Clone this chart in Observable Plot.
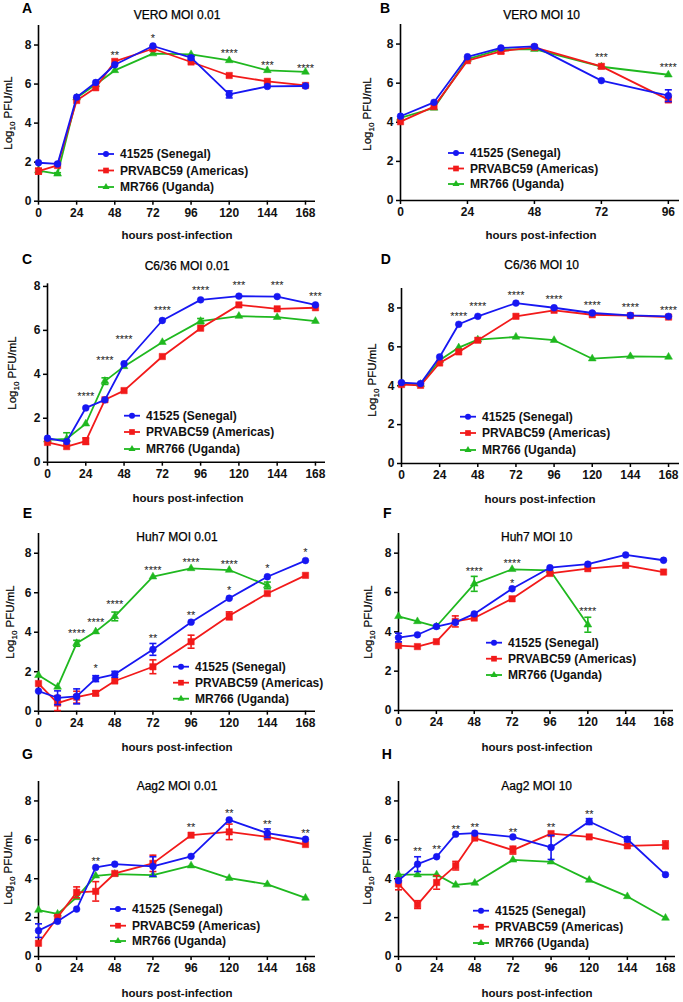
<!DOCTYPE html>
<html><head><meta charset="utf-8">
<script src="https://cdn.jsdelivr.net/npm/d3@7"></script>
<script src="https://cdn.jsdelivr.net/npm/@observablehq/plot@0.6"></script>
<style>
body{margin:0;background:#fff;}
#page{position:relative;width:683px;height:1002px;overflow:hidden;font-family:"Liberation Sans",Arial,sans-serif;background:#fff;}
.panel{position:absolute;}
#overlay{position:absolute;left:0;top:0;pointer-events:none;}
</style></head><body><div id="page"></div>
<script>
// ---------- DATA ----------
const hours = [0, 12, 24, 36, 48, 72, 96, 120, 144, 168];
const hoursVero10 = [0, 12, 24, 36, 48, 72, 96];
const hoursHuh7Uganda001 = [0, 12, 24, 36, 48, 72, 96, 120, 144];
const hoursHuh7Uganda10 = [0, 12, 24, 48, 72, 96, 120];
const xTicksLong = [0, 24, 48, 72, 96, 120, 144, 168];
const xTicksShort = [0, 24, 48, 72, 96];
const yTicks = [0, 2, 4, 6, 8];
const strainLabels = ["41525 (Senegal)", "PRVABC59 (Americas)", "MR766 (Uganda)"];
const panelTitles = ["VERO MOI 0.01", "VERO MOI 10", "C6/36 MOI 0.01", "C6/36 MOI 10",
  "Huh7 MOI 0.01", "Huh7 MOI 10", "Aag2 MOI 0.01", "Aag2 MOI 10"];
const panelLetters = ["A", "B", "C", "D", "E", "F", "G", "H"];
const xLabel = "hours post-infection";

// A: VERO MOI 0.01
const A_senegal = [1.97, 1.91, 5.33, 6.08, 6.99, 7.95, 7.35, 5.47, 5.88, 5.90];
const A_senegal_sem = [0, 0, 0, 0, 0, 0, 0.08, 0.18, 0, 0];
const A_americas = [1.54, 1.83, 5.16, 5.81, 7.16, 7.81, 7.13, 6.44, 6.14, 5.93];
const A_americas_sem = [0.15, 0, 0, 0, 0, 0, 0, 0, 0, 0];
const A_uganda = [1.57, 1.40, 5.30, 5.98, 6.70, 7.56, 7.52, 7.21, 6.70, 6.62];
const A_uganda_sem = [0, 0.06, 0, 0, 0, 0, 0, 0, 0, 0];
const A_starHours = [48, 72, 120, 144, 168];
const A_starY = [7.64, 8.5, 7.7, 7.13, 6.96];
const A_stars = ["**", "*", "****", "***", "****"];

// B: VERO MOI 10
const B_senegal = [4.31, 5.02, 7.35, 7.80, 7.88, 6.13, 5.36];
const B_senegal_sem = [0, 0, 0, 0, 0, 0, 0.3];
const B_americas = [4.03, 4.80, 7.15, 7.63, 7.83, 6.86, 5.16];
const B_americas_sem = [0, 0, 0, 0.12, 0, 0, 0.15];
const B_uganda = [4.22, 4.73, 7.23, 7.73, 7.74, 6.84, 6.43];
const B_uganda_sem = [0, 0, 0, 0, 0, 0, 0];
const B_starHours = [72, 96];
const B_starY = [7.49, 6.98];
const B_stars = ["***", "****"];

// C: C6/36 MOI 0.01
const C_senegal = [1.09, 0.94, 2.47, 2.84, 4.48, 6.45, 7.39, 7.56, 7.54, 7.16];
const C_senegal_sem = [0, 0, 0, 0, 0, 0, 0, 0, 0, 0];
const C_americas = [0.90, 0.71, 0.96, 2.84, 3.26, 4.81, 6.10, 7.16, 6.98, 7.03];
const C_americas_sem = [0, 0, 0.15, 0, 0, 0, 0, 0, 0, 0];
const C_uganda = [1.02, 1.06, 1.75, 3.69, 4.36, 5.46, 6.42, 6.65, 6.60, 6.42];
const C_uganda_sem = [0, 0.28, 0, 0.15, 0, 0, 0.12, 0, 0, 0];
const C_starHours = [24, 36, 48, 72, 96, 120, 144, 168];
const C_starY = [3.11, 4.75, 5.72, 7.06, 7.94, 8.16, 8.16, 7.69];
const C_stars = ["****", "****", "****", "****", "****", "***", "***", "***"];

// D: C6/36 MOI 10
const D_senegal = [4.16, 4.11, 5.48, 7.16, 7.57, 8.25, 8.01, 7.74, 7.62, 7.57];
const D_senegal_sem = [0, 0, 0, 0, 0, 0, 0, 0, 0, 0];
const D_americas = [4.06, 4.02, 5.17, 5.74, 6.34, 7.57, 7.88, 7.65, 7.60, 7.53];
const D_americas_sem = [0, 0, 0, 0, 0, 0, 0, 0, 0, 0];
const D_uganda = [4.11, 4.08, 5.31, 5.96, 6.37, 6.51, 6.34, 5.39, 5.51, 5.48];
const D_uganda_sem = [0, 0, 0, 0, 0, 0, 0, 0, 0, 0];
const D_starHours = [36, 48, 72, 96, 120, 144, 168];
const D_starY = [7.74, 8.22, 8.82, 8.6, 8.3, 8.18, 8.05];
const D_stars = ["****", "****", "****", "****", "****", "****", "****"];

// E: Huh7 MOI 0.01
const E_senegal = [1.02, 0.68, 0.75, 1.65, 1.87, 3.13, 4.51, 5.72, 6.81, 7.63];
const E_senegal_sem = [0, 0.35, 0.38, 0.15, 0.15, 0.3, 0, 0, 0, 0];
const E_americas = [1.40, 0.41, 0.71, 0.91, 1.53, 2.25, 3.52, 4.83, 5.96, 6.88];
const E_americas_sem = [0, 0.38, 0.3, 0.12, 0, 0.35, 0.33, 0.2, 0, 0];
const E_uganda = [1.82, 1.23, 3.44, 4.03, 4.80, 6.81, 7.23, 7.15, 6.37];
const E_uganda_sem = [0, 0, 0.15, 0, 0.22, 0, 0, 0, 0.17];
const E_starHours = [24, 36, 48, 72, 96, 120, 144, 168, 36, 72, 96, 120];
const E_starY = [4.07, 4.63, 5.57, 7.27, 7.69, 7.56, 7.39, 8.17, 2.3, 3.86, 5.02, 6.25];
const E_stars = ["****", "****", "****", "****", "****", "****", "*", "*", "*", "**", "**", "*"];

// F: Huh7 MOI 10
const F_senegal = [3.71, 3.85, 4.27, 4.48, 4.91, 6.19, 7.26, 7.44, 7.91, 7.64];
const F_senegal_sem = [0.22, 0, 0, 0, 0, 0, 0, 0, 0, 0];
const F_americas = [3.30, 3.25, 3.50, 4.53, 4.70, 5.68, 6.97, 7.21, 7.38, 7.04];
const F_americas_sem = [0, 0, 0, 0.28, 0, 0, 0, 0, 0, 0];
const F_uganda = [4.79, 4.53, 4.27, 6.44, 7.18, 7.13, 4.36];
const F_uganda_sem = [0, 0, 0, 0.38, 0, 0, 0.38];
const F_starHours = [48, 72, 72, 120];
const F_starY = [7.21, 7.64, 6.63, 5.21];
const F_stars = ["****", "****", "*", "****"];

// G: Aag2 MOI 0.01
const G_senegal = [1.33, 1.81, 2.44, 4.58, 4.75, 4.63, 5.15, 7.03, 6.34, 6.03];
const G_senegal_sem = [0.35, 0, 0, 0, 0, 0.5, 0, 0, 0.22, 0];
const G_americas = [0.68, 2.02, 3.30, 3.35, 4.27, 4.79, 6.24, 6.41, 6.15, 5.76];
const G_americas_sem = [0, 0, 0.28, 0.5, 0, 0.42, 0, 0.4, 0, 0];
const G_uganda = [2.39, 2.19, 3.04, 4.15, 4.24, 4.19, 4.67, 4.03, 3.71, 3.01];
const G_uganda_sem = [0, 0, 0, 0, 0, 0, 0, 0, 0, 0];
const G_starHours = [36, 96, 120, 144, 168];
const G_starY = [5.06, 6.77, 7.49, 6.97, 6.46];
const G_stars = ["**", "**", "**", "**", "**"];

// H: Aag2 MOI 10
const H_senegal = [3.90, 4.75, 5.13, 6.29, 6.34, 6.15, 5.61, 6.94, 6.03, 4.21];
const H_senegal_sem = [0, 0.38, 0, 0, 0, 0, 0.62, 0.15, 0.12, 0];
const H_americas = [3.73, 2.67, 3.81, 4.67, 6.09, 5.47, 6.32, 6.15, 5.69, 5.74];
const H_americas_sem = [0.3, 0.2, 0.35, 0.22, 0, 0.2, 0, 0, 0, 0.2];
const H_uganda = [4.21, 4.21, 4.21, 3.68, 3.78, 4.97, 4.87, 3.93, 3.09, 1.98];
const H_uganda_sem = [0, 0, 0, 0, 0, 0, 0, 0, 0, 0];
const H_starHours = [12, 24, 36, 48, 72, 96, 120];
const H_starY = [5.56, 5.66, 6.67, 6.77, 6.51, 6.77, 7.45];
const H_stars = ["**", "**", "**", "**", "**", "**", "**"];

// ---------- STYLE / LAYOUT ----------
const COLORS = ["#1717f2", "#f21a1a", "#1fb81f"];
const SYMBOLS = ["circle", "square", "triangle"];
const RADII = [3.4, 3.6, 2.9];
const LEGEND_RADII = [3.0, 3.2, 2.6];
const FONT = "'Liberation Sans', Arial, Helvetica, sans-serif";

const panels = [
  {left:0, top:0, w:340, h:250, mL:38, mR:25, mT:25, mB:49.3, xMax:174.3, yMax:9, xTicks:xTicksLong,
   series:[[hours,A_senegal,A_senegal_sem],[hours,A_americas,A_americas_sem],[hours,A_uganda,A_uganda_sem]],
   stars:[A_starHours,A_starY,A_stars],
   letter:[22,12.7], title:[177,15], ylab:[8,113], xlab:[177,235], legend:[98,[154,170.5,187]]},
  {left:340, top:0, w:343, h:250, mL:60, mR:4, mT:24, mB:50, xMax:100, yMax:9, xTicks:xTicksShort,
   series:[[hoursVero10,B_senegal,B_senegal_sem],[hoursVero10,B_americas,B_americas_sem],[hoursVero10,B_uganda,B_uganda_sem]],
   stars:[B_starHours,B_starY,B_stars],
   letter:[380,12.7], title:[541.7,15], ylab:[367,114], xlab:[541,235], legend:[448,[153,168.5,184]]},
  {left:0, top:250, w:340, h:250, mL:47, mR:15, mT:33.3, mB:38.3, xMax:174.3, yMax:8.12, xTicks:xTicksLong,
   series:[[hours,C_senegal,C_senegal_sem],[hours,C_americas,C_americas_sem],[hours,C_uganda,C_uganda_sem]],
   stars:[C_starHours,C_starY,C_stars],
   letter:[22,264], title:[187,266], ylab:[12,373], xlab:[188,498], legend:[124,[415.7,432,449]]},
  {left:340, top:250, w:343, h:250, mL:61, mR:4, mT:38, mB:37, xMax:174.9, yMax:9, xTicks:xTicksLong,
   series:[[hours,D_senegal,D_senegal_sem],[hours,D_americas,D_americas_sem],[hours,D_uganda,D_uganda_sem]],
   stars:[D_starHours,D_starY,D_stars],
   letter:[380.7,264], title:[541.7,265], ylab:[372,380], xlab:[540,499], legend:[460,[416.7,433,450]]},
  {left:0, top:500, w:340, h:250, mL:38, mR:25, mT:33, mB:39.3, xMax:174.3, yMax:9, xTicks:xTicksLong,
   series:[[hours,E_senegal,E_senegal_sem],[hours,E_americas,E_americas_sem],[hoursHuh7Uganda001,E_uganda,E_uganda_sem]],
   stars:[E_starHours,E_starY,E_stars],
   letter:[22.7,518.3], title:[177,537], ylab:[10,622], xlab:[177,747], legend:[173,[666.7,682.7,698.7]]},
  {left:340, top:500, w:343, h:250, mL:58, mR:10, mT:33, mB:40, xMax:174.3, yMax:9, xTicks:xTicksLong,
   series:[[hours,F_senegal,F_senegal_sem],[hours,F_americas,F_americas_sem],[hoursHuh7Uganda10,F_uganda,F_uganda_sem]],
   stars:[F_starHours,F_starY,F_stars],
   letter:[383,518.3], title:[536.7,537], ylab:[368,622], xlab:[537,747], legend:[486,[642.7,658.7,675]]},
  {left:0, top:750, w:340, h:252, mL:38, mR:25, mT:31, mB:46, xMax:174.3, yMax:9, xTicks:xTicksLong,
   series:[[hours,G_senegal,G_senegal_sem],[hours,G_americas,G_americas_sem],[hours,G_uganda,G_uganda_sem]],
   stars:[G_starHours,G_starY,G_stars],
   letter:[22,759.3], title:[177,786], ylab:[8,868], xlab:[177,993], legend:[110,[909,925.7,941]]},
  {left:340, top:750, w:343, h:252, mL:58, mR:8, mT:31, mB:46, xMax:174.3, yMax:9, xTicks:xTicksLong,
   series:[[hours,H_senegal,H_senegal_sem],[hours,H_americas,H_americas_sem],[hours,H_uganda,H_uganda_sem]],
   stars:[H_starHours,H_starY,H_stars],
   letter:[381.7,759.3], title:[536.7,786], ylab:[367,868], xlab:[537,993], legend:[473,[910.7,926.7,943]]}
];

const capHalf = 3.5;
const capSymbol = {draw(ctx, size){ const w = Math.sqrt(size) / 2; ctx.moveTo(-w, 0); ctx.lineTo(w, 0); }};
const capR = (2 * capHalf) / Math.sqrt(Math.PI);

const page = document.getElementById("page");

panels.forEach((p) => {
  const marks = [
    Plot.ruleY([0], {stroke: "#000", strokeWidth: 1.6}),
    Plot.ruleX([0], {stroke: "#000", strokeWidth: 1.6}),
    Plot.axisX({ticks: p.xTicks, tickSize: 4, tickPadding: 3, label: null, fontSize: 12, fontWeight: "bold", strokeWidth: 1.5, fill: "#111"}),
    Plot.axisY({ticks: yTicks, tickSize: 4, tickPadding: 3, label: null, fontSize: 12, fontWeight: "bold", strokeWidth: 1.5, fill: "#111"})
  ];
  // draw order: Uganda, Americas, Senegal (Senegal on top)
  [2, 1, 0].forEach((k) => {
    const [hs, vals, sems] = p.series[k];
    const rows = hs.map((h, i) => ({hour: h, value: vals[i], sem: sems[i]}));
    const errs = rows.filter((d) => d.sem > 0);
    const color = COLORS[k];
    marks.push(
      Plot.ruleX(errs, {x: "hour", y1: (d) => d.value - d.sem, y2: (d) => d.value + d.sem, stroke: color, strokeWidth: 1.6}),
      Plot.dot(errs, {x: "hour", y: (d) => d.value - d.sem, symbol: capSymbol, r: capR, stroke: color, strokeWidth: 1.6, fill: "none"}),
      Plot.dot(errs, {x: "hour", y: (d) => d.value + d.sem, symbol: capSymbol, r: capR, stroke: color, strokeWidth: 1.6, fill: "none"}),
      Plot.line(rows, {x: "hour", y: "value", stroke: color, strokeWidth: 1.8}),
      Plot.dot(rows, {x: "hour", y: "value", symbol: SYMBOLS[k], r: RADII[k], fill: color, stroke: color, strokeWidth: 0.5})
    );
  });
  const [sh, sy, st] = p.stars;
  const starRows = sh.map((h, i) => ({hour: h, y: sy[i], text: st[i]}));
  marks.push(Plot.text(starRows, {x: "hour", y: "y", text: "text", fontSize: 11, fill: "#222", dy: 3, lineAnchor: "middle", textAnchor: "middle"}));

  const chart = Plot.plot({
    width: p.w, height: p.h,
    marginLeft: p.mL, marginRight: p.mR, marginTop: p.mT, marginBottom: p.mB,
    x: {type: "linear", domain: [0, p.xMax]},
    y: {type: "linear", domain: [0, p.yMax]},
    style: {fontFamily: FONT, background: "transparent", overflow: "visible", color: "#000"},
    marks
  });
  const wrap = document.createElement("div");
  wrap.className = "panel";
  wrap.style.left = p.left + "px";
  wrap.style.top = p.top + "px";
  wrap.appendChild(chart);
  page.appendChild(wrap);
});

// ---------- overlay: letters, titles, axis labels, legends ----------
const svg = d3.create("svg").attr("id", "overlay").attr("width", 683).attr("height", 1002)
  .attr("font-family", FONT);
panels.forEach((p, idx) => {
  svg.append("text").attr("x", p.letter[0]).attr("y", p.letter[1]).attr("font-size", 14).attr("font-weight", "bold").text(panelLetters[idx]);
  svg.append("text").attr("x", p.title[0]).attr("y", p.title[1] + 4.3).attr("font-size", 12).attr("text-anchor", "middle").attr("fill", "#000").attr("stroke", "#000").attr("stroke-width", 0.25).text(panelTitles[idx]);
  svg.append("text").attr("x", p.xlab[0]).attr("y", p.xlab[1] + 4.2).attr("font-size", 11.5).attr("font-weight", "bold").attr("text-anchor", "middle").attr("fill", "#111").text(xLabel);
  const yl = svg.append("text").attr("transform", `translate(${p.ylab[0] + 4},${p.ylab[1]}) rotate(-90)`)
    .attr("font-size", 11.5).attr("text-anchor", "middle").attr("fill", "#000").attr("stroke", "#000").attr("stroke-width", 0.2);
  yl.append("tspan").text("Log");
  yl.append("tspan").attr("font-size", 8).attr("dy", 3).text("10");
  yl.append("tspan").attr("dy", -3).text(" PFU/mL");
  const [x0, ys] = p.legend;
  [0, 1, 2].forEach((k) => {
    const y = ys[k];
    svg.append("line").attr("x1", x0).attr("x2", x0 + 16).attr("y1", y).attr("y2", y).attr("stroke", COLORS[k]).attr("stroke-width", 1.8);
    const sym = [d3.symbolCircle, d3.symbolSquare, d3.symbolTriangle][k];
    svg.append("path").attr("d", d3.symbol(sym, Math.PI * LEGEND_RADII[k] * LEGEND_RADII[k])()).attr("transform", `translate(${x0 + 8},${y})`).attr("fill", COLORS[k]);
    svg.append("text").attr("x", x0 + 22).attr("y", y + 4.3).attr("font-size", 12).attr("font-weight", "bold").attr("fill", "#111").text(strainLabels[k]);
  });
});
page.appendChild(svg.node());
</script></body></html>
